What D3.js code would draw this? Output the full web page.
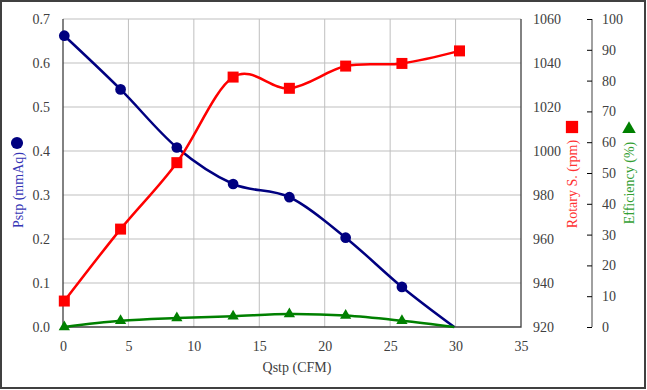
<!DOCTYPE html>
<html><head><meta charset="utf-8">
<script src="https://cdn.jsdelivr.net/npm/d3@7"></script>
<style>html,body{margin:0;padding:0;background:#fff;}svg{display:block;}</style>
</head><body>
<svg id="chart" width="647" height="390"></svg>
<script>
// ---- data ----
const qFlow = [0.1, 4.4, 8.7, 13.0, 17.3, 21.6, 25.9, 29.9];
const qRpm = [0.1, 4.4, 8.7, 13.0, 17.3, 21.6, 25.9, 30.3];
const pressure = [0.662, 0.540, 0.408, 0.325, 0.295, 0.203, 0.091, 0.0];
const rotarySpeed = [931.8, 964.5, 994.7, 1033.6, 1028.5, 1038.6, 1039.8, 1045.5];
const efficiency = [0.0, 2.0, 2.9, 3.5, 4.2, 3.7, 2.0, 0.0];
const xTicks = [0, 5, 10, 15, 20, 25, 30, 35];
const pTicks = [0, 0.1, 0.2, 0.3, 0.4, 0.5, 0.6, 0.7];
const rpmTicks = [920, 940, 960, 980, 1000, 1020, 1040, 1060];
const effTicks = [0, 10, 20, 30, 40, 50, 60, 70, 80, 90, 100];

const svg = d3.select('#chart');
const W = 647, H = 390;
const L = 63, R = 521, T = 19, B = 327;
const FONT = '"Liberation Serif", "DejaVu Serif", serif';
const TXT = '#404040';

svg.append('rect').attr('x', 1).attr('y', 1).attr('width', 644).attr('height', 387)
  .attr('fill', '#fff').attr('stroke', '#404040').attr('stroke-width', 2);

const x = d3.scaleLinear().domain([0, 35]).range([L, R]);
const yP = d3.scaleLinear().domain([0, 0.7]).range([B, T]);
const yR = d3.scaleLinear().domain([920, 1060]).range([B, T]);
const yE = d3.scaleLinear().domain([0, 100]).range([B, T]);

// grid
const grid = svg.append('g');
grid.selectAll('line.v').data(xTicks.filter(d => d > 0 && d < 35)).enter().append('line')
  .attr('x1', d => x(d)).attr('x2', d => x(d)).attr('y1', T).attr('y2', B)
  .attr('stroke', '#bfbfbf').attr('stroke-width', 1);
grid.selectAll('line.h').data(pTicks.filter(d => d > 0)).enter().append('line')
  .attr('x1', L).attr('x2', R).attr('y1', d => yP(d)).attr('y2', d => yP(d))
  .attr('stroke', '#bfbfbf').attr('stroke-width', 1);

// frame (left, bottom, right)
svg.append('path').attr('d', `M${L},${T}V${B}H${R}V${T}`).attr('fill', 'none')
  .attr('stroke', '#404040').attr('stroke-width', 1.3);

// axes
const xAxis = svg.append('g').attr('transform', `translate(0,${B})`)
  .call(d3.axisBottom(x).tickValues(xTicks).tickSize(0).tickPadding(14).tickFormat(d3.format('d')));
const yAxisL = svg.append('g').attr('transform', `translate(${L},0)`)
  .call(d3.axisLeft(yP).tickValues(pTicks).tickSize(0).tickPadding(13).tickFormat(d3.format('.1f')));
const yAxisR = svg.append('g').attr('transform', `translate(${R},0)`)
  .call(d3.axisRight(yR).tickValues(rpmTicks).tickSize(0).tickPadding(12).tickFormat(d3.format('d')));
const effX = 592;
const yAxisE = svg.append('g').attr('transform', `translate(${effX},0)`)
  .call(d3.axisLeft(yE).tickValues(effTicks).tickSize(5).tickFormat(d3.format('d')));
yAxisE.selectAll('.tick text').attr('x', 10).attr('text-anchor', 'start');
yAxisE.selectAll('.tick line').attr('stroke', '#000');
yAxisE.select('.domain').attr('stroke', '#808080').attr('stroke-width', 1.5).attr('d', `M0,${T}V${B}`);
[xAxis, yAxisL, yAxisR].forEach(a => a.select('.domain').remove());
[xAxis, yAxisL, yAxisR, yAxisE].forEach(a => a.selectAll('text')
  .attr('font-family', FONT).attr('font-size', 14).attr('fill', TXT));

// series
const curve = d3.curveCatmullRom.alpha(0);
const series = [
  { xs: qFlow, ys: pressure, y: yP, color: '#000080', sym: d3.symbolCircle, size: 90, markN: 7 },
  { xs: qRpm, ys: rotarySpeed, y: yR, color: '#ff0000', sym: d3.symbolSquare, size: 121, markN: 8 },
  { xs: qFlow, ys: efficiency, y: yE, color: '#008000', sym: d3.symbolTriangle, size: 55, markN: 7 }
];
series.forEach(s => {
  const pts = s.xs.map((q, i) => [q, s.ys[i]]);
  svg.append('path').datum(pts)
    .attr('d', d3.line().x(d => x(d[0])).y(d => s.y(d[1])).curve(curve))
    .attr('fill', 'none').attr('stroke', s.color).attr('stroke-width', 2.5);
  svg.selectAll(null).data(pts.slice(0, s.markN)).enter().append('path')
    .attr('transform', d => `translate(${x(d[0])},${s.y(d[1])})`)
    .attr('d', d3.symbol().type(s.sym).size(s.size)())
    .attr('fill', s.color);
});

// titles
svg.append('text').attr('x', (L + R) / 2 + 5).attr('y', 372).attr('text-anchor', 'middle')
  .attr('font-family', FONT).attr('font-size', 14).attr('fill', TXT).text('Qstp (CFM)');

function vTitle(cx, cy, txt, color) {
  svg.append('text').attr('transform', `translate(${cx},${cy}) rotate(-90)`)
    .attr('text-anchor', 'middle').attr('dy', '0.33em')
    .attr('font-family', FONT).attr('font-size', 14).attr('fill', color).text(txt);
}
vTitle(18, 190, 'Pstp (mmAq)', '#3535b5');
svg.append('path').attr('transform', 'translate(17,143)')
  .attr('d', d3.symbol().type(d3.symbolCircle).size(115)()).attr('fill', '#000080');
vTitle(572, 184, 'Rotary S. (rpm)', '#ff3333');
svg.append('path').attr('transform', 'translate(572,127)')
  .attr('d', d3.symbol().type(d3.symbolSquare).size(150)()).attr('fill', '#ff0000');
vTitle(629, 183, 'Efficiency (%)', '#33a033');
svg.append('path').attr('transform', 'translate(629,129)')
  .attr('d', d3.symbol().type(d3.symbolTriangle).size(80)()).attr('fill', '#008000');
</script>
</body></html>
